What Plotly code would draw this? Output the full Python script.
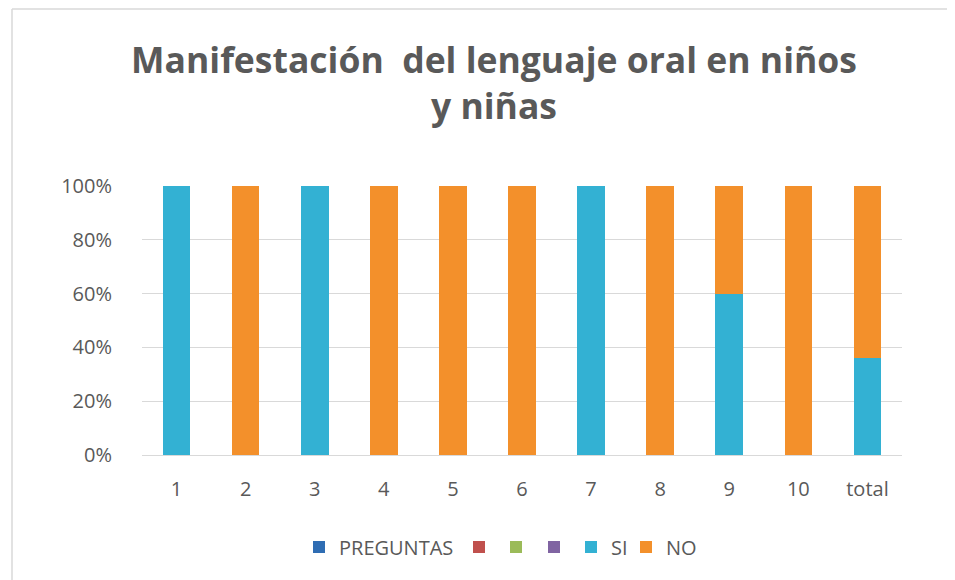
import plotly.graph_objects as go

categories = ["1", "2", "3", "4", "5", "6", "7", "8", "9", "10", "total"]
preguntas = [0, 0, 0, 0, 0, 0, 0, 0, 0, 0, 0]
serie2 = [0, 0, 0, 0, 0, 0, 0, 0, 0, 0, 0]
serie3 = [0, 0, 0, 0, 0, 0, 0, 0, 0, 0, 0]
serie4 = [0, 0, 0, 0, 0, 0, 0, 0, 0, 0, 0]
si = [100, 0, 100, 0, 0, 0, 100, 0, 60, 0, 36]
no = [0, 100, 0, 100, 100, 100, 0, 100, 40, 100, 64]
tick_vals = [0, 20, 40, 60, 80, 100]
tick_text = ["0%", "20%", "40%", "60%", "80%", "100%"]
series_names = ["PREGUNTAS", "", "", "", "SI", "NO"]
series_values = [preguntas, serie2, serie3, serie4, si, no]
series_colors = ["#2F6DB3", "#C0504D", "#9BBB59", "#8064A2", "#33B1D3", "#F3902B"]

# page body adds an 8px offset; figure coordinates = screen - 8
W, H = 955, 580
ml, mt = 134, 178
pw, ph = 760, 269
mr, mb = W - ml - pw, H - mt - ph

def px(x):
    return (x - ml) / pw

def py(y):
    return (H - mb - y) / ph

# left edge of each legend entry (figure px) so the swatches sit like the original
legend_left = [291, 451, 488, 526, 563, 618]
legend_ids = ["legend", "legend2", "legend3", "legend4", "legend5", "legend6"]

fig = go.Figure()
for name, vals, col, leg in zip(series_names, series_values, series_colors, legend_ids):
    fig.add_trace(go.Bar(x=categories, y=vals, name=name, width=0.4, legend=leg,
                         marker=dict(color=col, line=dict(width=0))))

FONT = "Open Sans, Lato, sans-serif"
leg_common = dict(orientation="h", xanchor="left", yanchor="middle", y=py(539),
                  font=dict(size=20, color="#595959"), itemwidth=30, traceorder="normal",
                  bgcolor="rgba(0,0,0,0)")
legends = {lid: dict(x=px(lx), **leg_common) for lid, lx in zip(legend_ids, legend_left)}

fig.update_layout(
    width=W, height=H,
    margin=dict(l=ml, r=mr, t=mt, b=mb),
    barmode="stack",
    plot_bgcolor="white", paper_bgcolor="white",
    font=dict(family=FONT, color="#595959", size=20),
    title=dict(text="Manifestación  del lenguaje oral en niños<br>y niñas",
               x=px(486), xref="paper", xanchor="center",
               y=1 - 65 / H, yanchor="middle",
               font=dict(family=FONT, size=35.5, color="#595959", weight="bold")),
    xaxis=dict(showgrid=False, showline=True, linecolor="#D9D9D9", ticks="",
               tickfont=dict(size=20, color="#595959"), ticklabelstandoff=16),
    yaxis=dict(range=[0, 100], tickvals=tick_vals, ticktext=tick_text,
               showgrid=True, gridcolor="#D9D9D9", zeroline=False,
               tickfont=dict(size=20, color="#595959"), ticklabelstandoff=29),
    showlegend=True,
    shapes=[
        dict(type="line", xref="paper", yref="paper", x0=px(4), x1=px(955), y0=py(1), y1=py(1),
             line=dict(color="#D9D9D9", width=1.5)),
        dict(type="line", xref="paper", yref="paper", x0=px(4), x1=px(4), y0=py(1), y1=py(580),
             line=dict(color="#D9D9D9", width=1.5)),
    ],
    **legends,
)

fig.write_html("out.html")
